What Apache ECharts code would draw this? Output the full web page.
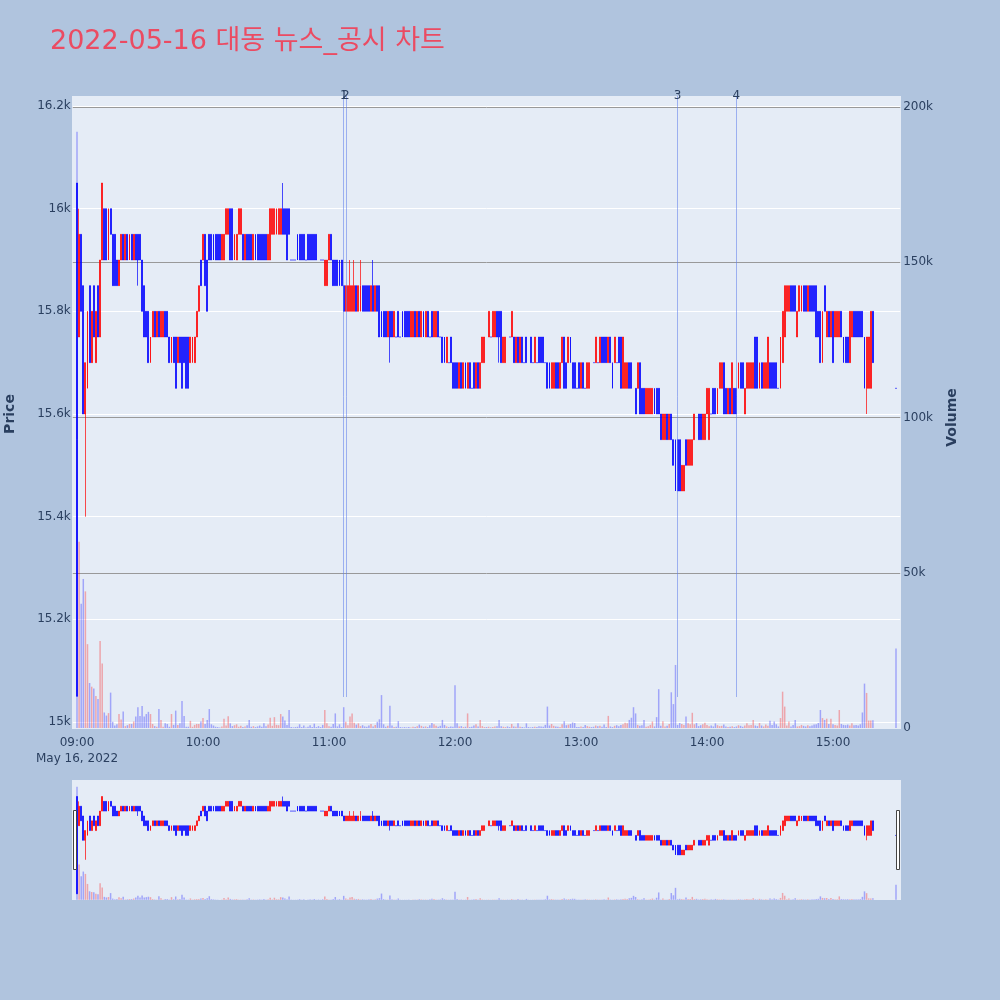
<!DOCTYPE html>
<html>
<head>
<meta charset="utf-8">
<script src="https://cdn.jsdelivr.net/npm/echarts@6.0.0/dist/echarts.min.js"></script>
<style>
html,body{margin:0;padding:0;background:#b0c4de;}
#chart{width:1000px;height:1000px;}
</style>
</head>
<body>
<div id="chart"></div>
<script>
// ---------------- data ----------------
const chartTitle = '2022-05-16 대동 뉴스_공시 차트';
const dateLabel = 'May 16, 2022';
const sessionStart = '09:00';
const sessionEnd = '15:30';
const hourLabels = ['09:00','10:00','11:00','12:00','13:00','14:00','15:00'];
const priceTicks = { min: 15000, max: 16200, step: 200 };
const volumeTicks = { min: 0, max: 200000, step: 50000 };
const newsMarks = [
  { label: '1', time: '11:07' },
  { label: '2', time: '11:08' },
  { label: '3', time: '13:46' },
  { label: '4', time: '14:14' }
];

// one [open, close, low, high] per minute from 09:00 (null = no trade)
const ohlc = [
[16050,15050,15050,16050],[15750,15950,15750,16000],[15950,15800,15800,15950],[15850,15600,15600,15850],[15600,15700,15400,15700],[15650,15800,15650,15800],[15850,15700,15700,15850],[15700,15800,15700,15800],[15850,15750,15750,15850],[15700,15800,15700,15800],
[15850,15750,15750,15850],[15750,15900,15750,15900],[15900,16050,15900,16050],[16000,15900,15900,16000],[16000,15900,15900,16000],[15900,16000,15900,16000],[16000,15950,15950,16000],[15950,15850,15850,15950],[15950,15850,15850,15950],[15900,15850,15850,15900],
[15850,15900,15850,15900],[15900,15950,15900,15950],[15950,15900,15900,15950],[15900,15950,15900,15950],[15950,15900,15900,15950],[15900,15950,15900,15950],[15950,15900,15900,15950],[15900,15950,15900,15950],[15950,15900,15900,15950],[15950,15900,15850,15950],
[15950,15900,15900,15950],[15900,15800,15800,15900],[15850,15750,15750,15850],[15800,15750,15750,15800],[15800,15700,15700,15800],[15700,15750,15700,15750],[15750,15800,15750,15800],[15800,15750,15750,15800],[15750,15800,15750,15800],[15800,15750,15750,15800],
[15750,15800,15750,15800],[15750,15800,15750,15800],[15800,15750,15750,15800],[15800,15750,15750,15800],[15750,15700,15700,15750],[15700,15750,15700,15750],[15750,15700,15700,15750],[15750,15650,15650,15750],[15700,15750,15700,15750],[15750,15700,15700,15750],
[15750,15650,15650,15750],[15750,15700,15700,15750],[15750,15650,15650,15750],[15750,15650,15650,15750],[15700,15750,15700,15750],[15700,15750,15700,15750],[15700,15750,15700,15750],[15750,15800,15750,15800],[15800,15850,15800,15850],[15900,15850,15850,15900],
[15900,15950,15900,15950],[15950,15850,15850,15950],[15900,15800,15800,15900],[15950,15900,15900,15950],[15950,15900,15900,15950],[15950,15900,15900,15950],[15950,15900,15900,15950],[15950,15900,15900,15950],[15950,15900,15900,15950],[15900,15950,15900,15950],
[15900,15950,15900,15950],[15950,16000,15950,16000],[15950,16000,15950,16000],[16000,15900,15900,16000],[16000,15900,15900,16000],[15900,15950,15900,15950],[15900,15950,15900,15950],[15950,16000,15950,16000],[15950,16000,15950,16000],[15950,15900,15900,15950],
[15900,15950,15900,15950],[15950,15900,15900,15950],[15950,15900,15900,15950],[15950,15900,15900,15950],[15900,15950,15900,15950],[15950,15900,15900,15950],[15950,15900,15900,15950],[15950,15900,15900,15950],[15950,15900,15900,15950],[15950,15900,15900,15950],
[15950,15900,15900,15950],[15900,15950,15900,15950],[15900,16000,15900,16000],[15950,16000,15950,16000],[15950,16000,15950,16000],[15950,16000,15950,16000],[15950,16000,15950,16000],[15950,16000,15950,16000],[16000,15950,15950,16050],[16000,15950,15950,16000],
[16000,15900,15900,16000],[16000,15950,15950,16000],[15900,15900,15900,15900],[15900,15900,15900,15900],[15900,15900,15900,15900],[15950,15900,15900,15950],[15950,15900,15900,15950],[15950,15900,15900,15950],[15950,15900,15900,15950],[15900,15900,15900,15900],
[15950,15900,15900,15950],[15950,15900,15900,15950],[15950,15900,15900,15950],[15950,15900,15900,15950],[15950,15900,15900,15950],[15900,15900,15900,15900],[15900,15900,15900,15900],[15900,15900,15900,15900],[15850,15900,15850,15900],[15850,15900,15850,15900],
[15900,15950,15900,15950],[15950,15900,15900,15950],[15900,15850,15850,15900],[15900,15850,15850,15900],[15900,15850,15850,15900],[15900,15850,15850,15900],[15900,15850,15850,15900],[15850,15800,15800,15850],[15800,15850,15800,15850],[15800,15850,15800,15850],
[15800,15850,15800,15900],[15800,15850,15800,15850],[15800,15850,15800,15900],[15850,15800,15800,15850],[15800,15850,15800,15850],[15800,15850,15800,15900],[15850,15800,15800,15850],[15850,15800,15800,15850],[15850,15800,15800,15850],[15850,15800,15800,15850],
[15800,15850,15800,15850],[15850,15800,15800,15900],[15800,15850,15800,15850],[15850,15800,15800,15850],[15850,15750,15750,15850],[15800,15750,15750,15800],[15800,15750,15750,15800],[15800,15750,15750,15800],[15750,15800,15750,15800],[15800,15750,15700,15800],
[15800,15750,15750,15800],[15750,15800,15750,15800],[15750,15750,15750,15750],[15800,15750,15750,15800],[15750,15750,15750,15750],[15800,15750,15750,15800],[15800,15750,15750,15800],[15800,15750,15750,15800],[15800,15750,15750,15800],[15750,15800,15750,15800],
[15750,15800,15750,15800],[15800,15750,15750,15800],[15750,15800,15750,15800],[15800,15750,15750,15800],[15750,15800,15750,15800],[15800,15750,15750,15800],[15750,15800,15750,15800],[15800,15750,15750,15800],[15750,15750,15750,15750],[15800,15750,15750,15800],
[15750,15800,15750,15800],[15750,15800,15750,15800],[15800,15750,15750,15800],[15750,15750,15750,15750],[15750,15700,15700,15750],[15750,15700,15700,15750],[15700,15750,15700,15750],[15700,15700,15700,15700],[15750,15700,15700,15750],[15700,15650,15650,15700],
[15700,15650,15650,15700],[15700,15650,15650,15700],[15650,15700,15650,15700],[15700,15650,15650,15700],[15650,15700,15650,15700],[15700,15650,15650,15700],[15650,15700,15650,15700],[15700,15650,15650,15700],[15650,15650,15650,15650],[15700,15650,15650,15700],
[15650,15700,15650,15700],[15700,15650,15650,15700],[15650,15700,15650,15700],[15700,15750,15700,15750],[15700,15750,15700,15750],[15750,15750,15750,15750],[15750,15800,15750,15800],[15750,15750,15750,15750],[15750,15800,15750,15800],[15750,15800,15750,15800],
[15800,15750,15750,15800],[15800,15750,15700,15800],[15800,15700,15700,15800],[15700,15750,15700,15750],[15700,15750,15700,15750],[15750,15750,15750,15750],[15750,15750,15750,15750],[15750,15800,15750,15800],[15750,15700,15700,15750],[15700,15750,15700,15750],
[15750,15700,15700,15750],[15700,15750,15700,15750],[15750,15700,15700,15750],[15700,15700,15700,15700],[15750,15700,15700,15750],[15700,15700,15700,15700],[15750,15700,15700,15750],[15700,15700,15700,15700],[15700,15750,15700,15750],[15700,15700,15700,15700],
[15750,15700,15700,15750],[15750,15700,15700,15750],[15750,15700,15700,15750],[15700,15700,15700,15700],[15700,15650,15650,15700],[15700,15650,15650,15700],[15650,15700,15650,15700],[15650,15700,15650,15700],[15700,15650,15650,15700],[15700,15650,15650,15700],
[15650,15700,15650,15700],[15700,15750,15700,15750],[15750,15650,15650,15750],[15700,15650,15650,15700],[15700,15750,15700,15750],[15750,15700,15700,15750],[15700,15650,15650,15700],[15700,15650,15650,15700],[15650,15650,15650,15650],[15700,15650,15650,15700],
[15650,15700,15650,15700],[15700,15650,15650,15700],[15650,15650,15650,15650],[15650,15700,15650,15700],[15650,15700,15650,15700],[15700,15700,15700,15700],[15700,15700,15700,15700],[15700,15750,15700,15750],[15700,15700,15700,15700],[15700,15750,15700,15750],
[15750,15700,15700,15750],[15750,15700,15700,15750],[15750,15700,15700,15750],[15700,15750,15700,15750],[15750,15700,15700,15750],[15700,15650,15650,15700],[15700,15750,15700,15750],[15700,15700,15700,15700],[15750,15700,15700,15750],[15750,15650,15650,15750],
[15650,15750,15650,15750],[15650,15700,15650,15700],[15650,15700,15650,15700],[15700,15650,15650,15700],[15700,15650,15650,15700],[15650,15650,15650,15650],[15650,15600,15600,15650],[15650,15700,15650,15700],[15700,15600,15600,15700],[15650,15600,15600,15650],
[15650,15600,15600,15650],[15600,15650,15600,15650],[15600,15650,15600,15650],[15600,15650,15600,15650],[15600,15650,15600,15650],[15650,15600,15600,15650],[15650,15600,15600,15650],[15650,15600,15600,15650],[15600,15550,15550,15600],[15550,15600,15550,15600],
[15550,15600,15550,15600],[15600,15550,15550,15600],[15550,15600,15550,15600],[15600,15550,15550,15600],[15550,15500,15500,15550],[15550,15450,15450,15550],[15550,15450,15450,15550],[15550,15450,15450,15550],[15450,15500,15450,15500],[15450,15500,15450,15500],
[15550,15500,15500,15550],[15500,15550,15500,15550],[15500,15550,15500,15550],[15500,15550,15500,15550],[15550,15600,15550,15600],[15550,15550,15550,15550],[15600,15550,15550,15600],[15600,15550,15550,15600],[15550,15600,15550,15600],[15550,15600,15550,15600],
[15600,15650,15600,15650],[15550,15650,15550,15650],[15600,15600,15600,15600],[15650,15600,15600,15650],[15650,15600,15600,15650],[15600,15650,15600,15650],[15650,15700,15650,15700],[15650,15700,15650,15700],[15700,15600,15600,15700],[15650,15600,15600,15650],
[15600,15650,15600,15650],[15650,15600,15600,15650],[15600,15700,15600,15700],[15650,15600,15600,15650],[15650,15600,15600,15650],[15650,15700,15650,15700],[15700,15650,15650,15700],[15700,15650,15650,15700],[15600,15650,15600,15650],[15650,15700,15650,15700],
[15650,15700,15650,15700],[15650,15700,15650,15700],[15650,15700,15650,15700],[15750,15650,15650,15750],[15750,15650,15650,15750],[15650,15700,15650,15700],[15700,15650,15650,15700],[15650,15700,15650,15700],[15650,15700,15650,15700],[15650,15750,15650,15750],
[15700,15650,15650,15700],[15700,15650,15650,15700],[15700,15650,15650,15700],[15700,15650,15650,15700],[15650,15650,15650,15650],[15650,15750,15650,15750],[15700,15800,15700,15800],[15750,15850,15750,15850],[15800,15850,15800,15850],[15800,15850,15800,15850],
[15850,15800,15800,15850],[15850,15800,15800,15850],[15850,15800,15800,15850],[15750,15800,15750,15800],[15800,15850,15800,15850],[15800,15850,15800,15850],[15850,15800,15800,15850],[15850,15800,15800,15850],[15800,15850,15800,15850],[15850,15800,15800,15850],
[15850,15800,15800,15850],[15850,15800,15800,15850],[15850,15750,15750,15850],[15800,15750,15750,15800],[15800,15700,15700,15800],[15700,15800,15700,15800],[15850,15800,15800,15850],[15750,15800,15750,15800],[15800,15750,15750,15800],[15750,15800,15750,15800],
[15800,15700,15700,15800],[15750,15800,15750,15800],[15750,15800,15750,15800],[15750,15800,15750,15800],[15800,15750,15750,15800],[15750,15700,15700,15750],[15750,15700,15700,15750],[15750,15700,15700,15750],[15700,15800,15700,15800],[15750,15800,15750,15800],
[15800,15750,15750,15800],[15800,15750,15750,15800],[15800,15750,15750,15800],[15800,15750,15750,15800],[15800,15750,15750,15800],[15750,15650,15650,15750],[15650,15750,15600,15750],[15650,15750,15650,15750],[15650,15800,15650,15800],[15800,15700,15700,15800],
null,null,null,null,null,null,null,null,null,null,
[15650,15650,15650,15650]
];

// traded volume per minute from 09:00 (null = no trade)
const volume = [
192000,60000,40000,48000,44000,27000,14500,13300,12700,10300,
9300,28000,20800,5000,4000,4800,11400,2000,800,1200,
4500,2700,5300,600,900,1300,1300,2100,3700,6700,
3900,7100,3700,4500,5200,4500,1300,600,400,6100,
2600,400,1500,1300,400,4500,1000,5600,1000,1500,
8700,3900,400,400,2300,400,1000,1300,1300,2100,
3200,1300,2600,6100,1200,800,400,300,200,500,
3000,800,3800,1500,600,900,1200,400,700,300,
500,900,2600,400,600,300,500,800,400,1500,
600,1100,3300,700,3500,1000,900,4500,3700,2400,
1000,5800,300,200,300,400,1200,300,800,200,
400,900,300,1400,300,600,300,1000,5800,1500,
600,400,1300,4700,500,1200,300,6700,2000,900,
3700,4700,1700,1100,1500,600,900,500,400,800,
1300,500,1000,2000,2800,10600,1200,400,700,7200,
800,300,400,2200,300,200,300,200,300,200,
400,300,600,1100,700,400,500,300,900,1600,
1200,700,400,700,2600,1000,500,300,500,400,
13800,1500,500,600,300,400,4700,300,400,800,
1200,500,2600,600,300,300,400,200,300,500,
600,2600,600,400,300,500,300,1300,500,400,
1500,400,300,200,1500,300,200,300,400,300,
600,500,400,1000,6900,800,1300,700,500,400,
300,1200,2200,900,1100,1300,1800,1600,300,300,
500,300,1000,600,400,300,400,800,600,700,
400,1100,300,3900,500,300,700,900,600,1000,
1200,1700,1500,2600,3300,6700,4700,1000,700,900,
2600,400,600,1000,2100,500,3500,12500,700,2200,
500,700,1300,11500,7700,20300,1000,1600,1300,1000,
3700,1500,1200,4900,1200,1600,600,900,1200,1700,
1000,600,800,500,1500,900,600,700,1100,500,
300,400,600,300,500,900,700,400,800,1500,
900,1000,2600,800,600,1600,800,500,1100,700,
2300,1000,2100,1200,500,3200,11700,6900,800,2100,
500,1000,2600,500,600,1000,700,500,900,600,
800,1100,1200,1600,5800,3200,2600,3000,1300,3000,
1200,1000,800,5800,1300,1000,900,1100,800,1500,
900,1000,800,1200,5000,14300,11300,2400,2400,2500,
null,null,null,null,null,null,null,null,null,null,
25600
];

// ---------------- build ----------------
function toMin(s){ const p = s.split(':').map(Number); return p[0]*60 + p[1]; }
function toHM(t){ return String(Math.floor(t/60)).padStart(2,'0') + ':' + String(t%60).padStart(2,'0'); }
const PAD = 2; // empty minutes on each side of the session (axis padding)
const categories = [];
for (let t = toMin(sessionStart) - PAD; t <= toMin(sessionEnd) + PAD; t++) categories.push(toHM(t));
const EMPTY4 = ['-','-','-','-'];
const candleData = categories.map((c, i) => ohlc[i - PAD] || EMPTY4);
const volData = categories.map((c, i) => { const v = volume[i - PAD]; return v == null ? '-' : v; });
const blankData = categories.map(() => '-');
const isUp = i => { const d = ohlc[i - PAD]; return !!d && d[1] > d[0]; };

const FONT = '"DejaVu Sans", Verdana, "Noto Sans CJK KR", sans-serif';
const INK = '#2a3f5f';
const UP = '#ff0000', DOWN = '#0000ff';
const UP_A = 'rgba(255,0,0,0.3)', DOWN_A = 'rgba(0,0,255,0.3)';
const GL = 72.8, GW = 827.4;

const kFmt = v => v === 0 ? '0' : (v / 1000) + 'k';

function xAx(i, showLabels){
  return {
    type: 'category', gridIndex: i, data: categories, boundaryGap: false,
    axisLine: { show: false }, axisTick: { show: false }, splitLine: { show: false },
    axisLabel: showLabels ? {
      show: true,
      interval: (idx, val) => hourLabels.includes(val),
      formatter: v => v === sessionStart ? v + '\n' + dateLabel : v,
      color: INK, fontSize: 12, fontFamily: FONT, margin: 7, lineHeight: 16
    } : { show: false }
  };
}

const candleStyle = {
  color: UP, color0: DOWN, borderColor: UP, borderColor0: DOWN,
  borderColorDoji: DOWN, borderWidth: 0.7
};

const chart = echarts.init(document.getElementById('chart'), null, { renderer: 'canvas' });
chart.setOption({
  animation: false,
  backgroundColor: '#b0c4de',
  textStyle: { fontFamily: FONT },
  title: {
    text: chartTitle, left: 45, top: 23,
    textStyle: { color: '#eb4b62', fontSize: 27, fontWeight: 'normal', fontFamily: FONT }
  },
  graphic: [
    { type: 'rect', z: -10, silent: true, shape: { x: 72, y: 96, width: 829, height: 633 }, style: { fill: '#e5ecf6' } },
    { type: 'rect', z: -10, silent: true, shape: { x: 72, y: 780, width: 829, height: 120 }, style: { fill: '#e5ecf6' } },
    { type: 'rect', z: 100, silent: true, shape: { x: 73.5, y: 810.5, width: 3, height: 59 }, style: { fill: '#ffffff', stroke: '#444', lineWidth: 1 } },
    { type: 'rect', z: 100, silent: true, shape: { x: 896.5, y: 810.5, width: 3, height: 59 }, style: { fill: '#ffffff', stroke: '#444', lineWidth: 1 } }
  ],
  grid: [
    { left: GL, width: GW, top: 106, height: 616, outerBoundsMode: 'none' },
    { left: GL, width: GW, top: 107, height: 621, outerBoundsMode: 'none' },
    { left: GL, width: GW, top: 781.9, height: 116.8, outerBoundsMode: 'none' },
    { left: GL, width: GW, top: 782.1, height: 117.7, outerBoundsMode: 'none' },
    // overlay for news markers: from plot top down to the day's low
    { left: GL, width: GW, top: 96, height: 601, outerBoundsMode: 'none' }
  ],
  xAxis: [ xAx(0, false), xAx(1, true), xAx(2, false), xAx(3, false), xAx(4, false) ],
  yAxis: [
    {
      type: 'value', gridIndex: 0, position: 'left',
      min: priceTicks.min, max: priceTicks.max, interval: priceTicks.step,
      axisLine: { show: false }, axisTick: { show: false },
      axisLabel: { formatter: kFmt, color: INK, fontSize: 12, fontFamily: FONT, margin: 2 },
      splitLine: { show: true, lineStyle: { color: '#ffffff', width: 1 } },
      name: 'Price', nameLocation: 'middle', nameGap: 55, nameRotate: 90,
      nameTextStyle: { color: INK, fontSize: 14, fontWeight: 'bold', fontFamily: FONT }
    },
    {
      type: 'value', gridIndex: 1, position: 'right',
      min: volumeTicks.min, max: volumeTicks.max, interval: volumeTicks.step,
      axisLine: { show: false }, axisTick: { show: false },
      axisLabel: { formatter: kFmt, color: INK, fontSize: 12, fontFamily: FONT, margin: 3 },
      splitLine: { show: true, showMinLine: false, lineStyle: { color: '#999999', width: 1 } },
      name: 'Volume', nameLocation: 'middle', nameGap: 45, nameRotate: 90,
      nameTextStyle: { color: INK, fontSize: 14, fontWeight: 'bold', fontFamily: FONT }
    },
    { type: 'value', gridIndex: 2, min: priceTicks.min, max: priceTicks.max, show: false },
    { type: 'value', gridIndex: 3, min: volumeTicks.min, max: volumeTicks.max, show: false },
    { type: 'value', gridIndex: 4, min: 0, max: 1, show: false }
  ],
  series: [
    {
      name: 'Volume', type: 'bar', xAxisIndex: 1, yAxisIndex: 1, data: volData,
      barWidth: 1.5, z: 2, silent: true,
      itemStyle: { color: p => isUp(p.dataIndex) ? UP_A : DOWN_A }
    },
    {
      name: 'Price', type: 'candlestick', xAxisIndex: 0, yAxisIndex: 0, data: candleData,
      barWidth: 1.4, z: 3, silent: true, itemStyle: candleStyle
    },
    {
      name: 'News', type: 'line', xAxisIndex: 4, yAxisIndex: 4, data: blankData,
      symbol: 'none', silent: true, z: 4, lineStyle: { opacity: 0 },
      markLine: {
        silent: true, symbol: ['none', 'none'], animation: false,
        lineStyle: { color: 'rgba(95,125,235,0.55)', width: 1, type: 'solid' },
        label: { show: true, position: 'end', formatter: p => p.name, color: INK, fontSize: 12, fontFamily: FONT, distance: -6 },
        emphasis: { disabled: true },
        data: newsMarks.map(n => ({ name: n.label, xAxis: n.time }))
      }
    },
    {
      name: 'VolumeMini', type: 'bar', xAxisIndex: 3, yAxisIndex: 3, data: volData,
      barWidth: 1.5, z: 2, silent: true,
      itemStyle: { color: p => isUp(p.dataIndex) ? UP_A : DOWN_A }
    },
    {
      name: 'PriceMini', type: 'candlestick', xAxisIndex: 2, yAxisIndex: 2, data: candleData,
      barWidth: 1.4, z: 3, silent: true, itemStyle: candleStyle
    }
  ]
});
</script>
</body>
</html>
